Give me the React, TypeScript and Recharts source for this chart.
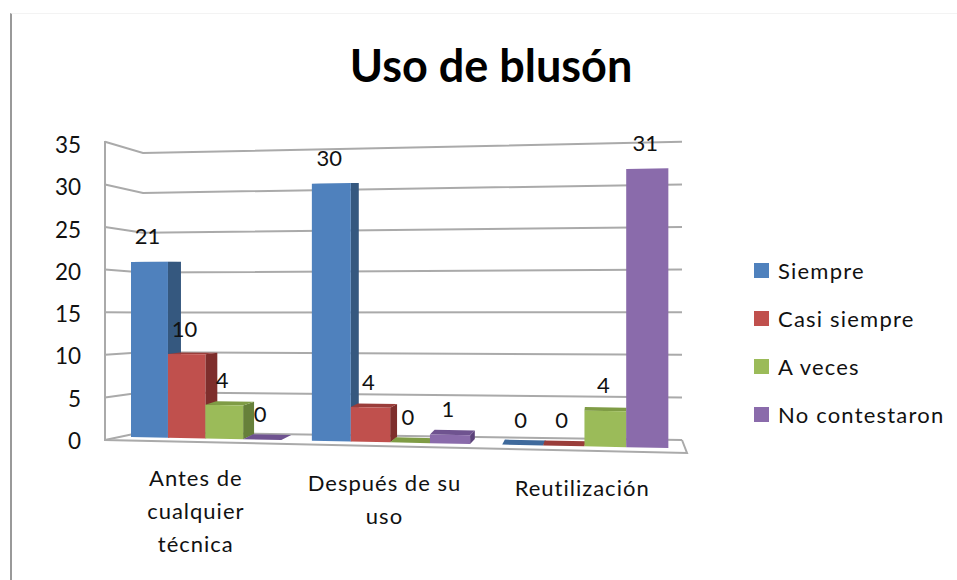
import { BarChart, Bar, XAxis, YAxis, CartesianGrid, Legend, LabelList } from 'recharts'

const categories = ['Antes de\ncualquier\ntécnica', 'Después de su\nuso', 'Reutilización']
const siempre = [21, 30, 0]
const casiSiempre = [10, 4, 0]
const aVeces = [4, 0, 4]
const noContestaron = [0, 1, 31]
const yTicks = [0, 5, 10, 15, 20, 25, 30, 35]

const data = categories.map((name, i) => ({
  name,
  siempre: siempre[i],
  casiSiempre: casiSiempre[i],
  aVeces: aVeces[i],
  noContestaron: noContestaron[i],
}))

const FONT = 'Lato, sans-serif'
const PLOT_TOP = 145
const PLOT_BOTTOM = 441
const PX_PER_UNIT = (PLOT_BOTTOM - PLOT_TOP) / 35

// fake Excel 3D: pushes flat bar positions into the tilted perspective
function warpX(x: number) {
  const t = (x - 121) / 543
  return 131 + 537 * t - 38 * t * (1 - t)
}
const baseY = (x: number) => 437 + (x - 131) * 0.0205
const unitPx = (x: number) => 8.33 + (x - 131) * 0.00129
const sideWidth = (x: number) => Math.max(0, 13 - (x - 168) * 0.0275)

const SHADES: Record<string, { side: string; top: string }> = {
  '#4f81bd': { side: '#35587f', top: '#3f6a9c' },
  '#c0504d': { side: '#7e2e2c', top: '#9a3d3a' },
  '#9bbb59': { side: '#66803a', top: '#7f9c45' },
  '#8a6bab': { side: '#5c437a', top: '#6f5390' },
}

const pts = (list: number[][]) => list.map((p) => p.join(',')).join(' ')

function Bar3D(props: any) {
  const { x, width, value, fill } = props
  const v = Number(value) || 0
  const x0 = warpX(x)
  const x1 = warpX(x + width)
  const b0 = baseY(x0)
  const b1 = baseY(x1)
  const t0 = b0 - v * unitPx(x0)
  const t1 = b1 - v * unitPx(x1)
  const d = sideWidth(x1)
  const dy = Math.max(0, 5 - 0.36 * v)
  const shade = SHADES[fill]
  return (
    <g>
      <polygon points={pts([[x1, t1], [x1 + d, t1 - dy], [x1 + d, b1 - 5], [x1, b1]])} fill={shade.side} />
      <polygon points={pts([[x0, t0], [x1, t1], [x1 + d, t1 - dy], [x0 + d, t0 - dy]])} fill={shade.top} />
      <polygon points={pts([[x0, b0], [x1, b1], [x1, t1], [x0, t0]])} fill={fill} />
    </g>
  )
}

function BarValue(props: any) {
  const { x, width, value } = props
  const cx = warpX(x + width / 2)
  const top = baseY(cx) - Number(value) * unitPx(cx)
  return (
    <text x={cx - 2} y={top - 26} textAnchor="middle" dominantBaseline="central" fontFamily={FONT} fontSize={22} fill="#111">
      {value}
    </text>
  )
}

// wall and floor lines, bent at the back corner of the 3D box
function WallLine(props: any) {
  const v = (PLOT_BOTTOM - props.y1) / PX_PER_UNIT
  const outer = 440 - 8.52 * v
  const inner = 432 - 7.97 * v
  return (
    <g fill="none" stroke="#aaaaaa" strokeWidth={2}>
      <polyline points={pts([[105, outer], [143, inner], [682, outer]])} />
      {v === 0 && <polyline points={pts([[105, 141], [105, 440], [687, 453], [682, 440]])} />}
    </g>
  )
}

function CategoryTick(props: any) {
  const { x, y, payload, index } = props
  const lines = String(payload.value).split('\n')
  const firstLine = y + 29 + (x - 201) * 0.024
  const nudge = [-5, -8, -2][index] ?? 0
  return (
    <text textAnchor="middle" fontFamily={FONT} fontSize={22} letterSpacing={1} fill="#111">
      {lines.map((line, i) => (
        <tspan key={line} x={x + nudge} y={firstLine + i * 33} dominantBaseline="central">
          {line}
        </tspan>
      ))}
    </text>
  )
}

function LegendList(props: any) {
  return (
    <div style={{ fontFamily: FONT, fontSize: 22, letterSpacing: 1.2, color: '#111' }}>
      {props.payload.map((item: any) => (
        <div key={item.value} style={{ display: 'flex', alignItems: 'center', height: 48 }}>
          <span style={{ width: 15, height: 15, background: item.color, marginRight: 9 }} />
          {item.value}
        </div>
      ))}
    </div>
  )
}

export default function App() {
  return (
    <div style={{ position: 'absolute', left: 0, top: 0, width: 957, height: 580, background: '#fff', overflow: 'hidden' }}>
      <div style={{ position: 'absolute', left: 10, top: 13, right: 0, bottom: 0, borderLeft: '2px solid #999', borderTop: '1px solid #f3f3f3' }} />
      <BarChart
        width={957}
        height={580}
        data={data}
        barSize={40}
        barGap={0}
        margin={{ top: PLOT_TOP, right: 74, bottom: 580 - PLOT_BOTTOM - 60, left: 25 }}
      >
        <text x={491} y={65} textAnchor="middle" dominantBaseline="central" fontFamily={FONT} fontWeight={700} fontSize={45} fill="#000">
          Uso de blusón
        </text>
        <CartesianGrid vertical={false} horizontal={WallLine} />
        <XAxis dataKey="name" height={60} axisLine={false} tickLine={false} interval={0} tick={CategoryTick} />
        <YAxis
          width={80}
          domain={[0, 35]}
          ticks={yTicks}
          interval={0}
          axisLine={false}
          tickLine={false}
          tickMargin={18}
          tick={{ fontFamily: FONT, fontSize: 22.5, fill: '#111' }}
        />
        <Legend
          layout="vertical"
          align="right"
          verticalAlign="middle"
          itemSorter={null}
          content={LegendList}
          wrapperStyle={{ left: 754, top: 246, width: 203, bottom: 'auto', right: 'auto' }}
        />
        <Bar dataKey="siempre" name="Siempre" fill="#4f81bd" shape={Bar3D} isAnimationActive={false}>
          <LabelList dataKey="siempre" content={BarValue} />
        </Bar>
        <Bar dataKey="casiSiempre" name="Casi siempre" fill="#c0504d" shape={Bar3D} isAnimationActive={false}>
          <LabelList dataKey="casiSiempre" content={BarValue} />
        </Bar>
        <Bar dataKey="aVeces" name="A veces" fill="#9bbb59" shape={Bar3D} isAnimationActive={false}>
          <LabelList dataKey="aVeces" content={BarValue} />
        </Bar>
        <Bar dataKey="noContestaron" name="No contestaron" fill="#8a6bab" shape={Bar3D} isAnimationActive={false}>
          <LabelList dataKey="noContestaron" content={BarValue} />
        </Bar>
      </BarChart>
    </div>
  )
}
